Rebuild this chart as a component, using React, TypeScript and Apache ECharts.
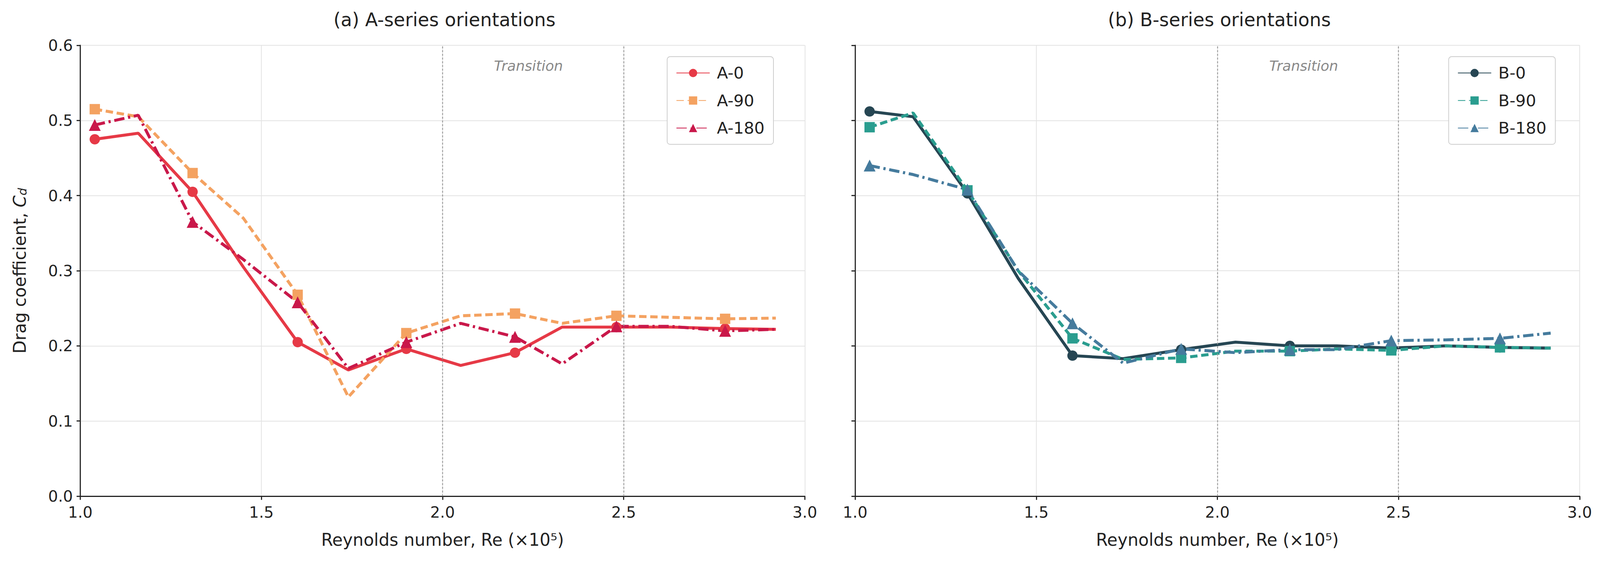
import React, { useEffect, useRef } from "react";
import * as echarts from "echarts";

const reValues = [1.04, 1.16, 1.31, 1.45, 1.6, 1.74, 1.9, 2.05, 2.2, 2.33, 2.48, 2.63, 2.78, 2.92];

const a0 = [0.475, 0.483, 0.405, 0.305, 0.205, 0.168, 0.196, 0.174, 0.191, 0.225, 0.225, 0.225, 0.223, 0.222];
const a90 = [0.515, 0.505, 0.43, 0.37, 0.268, 0.132, 0.217, 0.24, 0.243, 0.23, 0.24, 0.238, 0.236, 0.237];
const a180 = [0.494, 0.507, 0.365, 0.315, 0.258, 0.17, 0.205, 0.23, 0.212, 0.176, 0.226, 0.226, 0.22, 0.222];
const b0 = [0.512, 0.505, 0.403, 0.29, 0.187, 0.183, 0.195, 0.205, 0.2, 0.2, 0.197, 0.2, 0.198, 0.197];
const b90 = [0.491, 0.51, 0.407, 0.3, 0.21, 0.182, 0.184, 0.193, 0.193, 0.196, 0.194, 0.2, 0.198, 0.197];
const b180 = [0.44, 0.428, 0.408, 0.3, 0.23, 0.177, 0.196, 0.191, 0.195, 0.195, 0.207, 0.208, 0.21, 0.217];

const transitionLines = [2.0, 2.5];

const FONT = "DejaVu Sans";

const App = () => {
  const chartRef = useRef<HTMLDivElement>(null);

  useEffect(() => {
    const chartDom = chartRef.current;
    if (!chartDom) return;
    const myChart = echarts.init(chartDom, null, { renderer: "svg" });
    // everything is laid out for a 4324 px wide figure, then scaled
    const s = chartDom.clientWidth / 4324;
    const sy = chartDom.clientHeight / 1459;
    const S = (v: number) => v * s;

    // markers only on every other point
    const pts = (ys: number[]) =>
      ys.map((y, i) => (i % 2 === 0 ? [reValues[i], y] : { value: [reValues[i], y], symbol: "none" }));

    const mk = (name: string, ys: number[], idx: number, color: string, symbol: string, type: any) => ({
      name,
      type: "line",
      xAxisIndex: idx,
      yAxisIndex: idx,
      data: pts(ys),
      symbol,
      symbolSize: S(symbol === "triangle" ? 32 : 28),
      showAllSymbol: true,
      lineStyle: { color, width: S(8), type: Array.isArray(type) ? type.map(S) : type },
      itemStyle: { color },
      z: 3,
    });

    const vlines = (idx: number) => ({
      type: "line",
      xAxisIndex: idx,
      yAxisIndex: idx,
      data: [],
      silent: true,
      markLine: {
        symbol: "none",
        silent: true,
        label: { show: false },
        lineStyle: { color: "#999", type: [S(5), S(5)], width: S(2.5) },
        data: transitionLines.map((x) => ({ xAxis: x })),
      },
    });

    const grids = [
      { left: S(217), width: S(1958), top: 116 * sy, height: 1154 * sy },
      { left: S(2311), width: S(1958), top: 116 * sy, height: 1154 * sy },
    ];

    const xAxis = grids.map((_, i) => ({
      type: "value",
      gridIndex: i,
      min: 1,
      max: 3,
      interval: 0.5,
      name: "Reynolds number, Re (×10⁵)",
      nameLocation: "middle",
      nameGap: S(95),
      nameTextStyle: { fontSize: S(46), color: "#222", fontFamily: FONT },
      axisLine: { lineStyle: { color: "#222", width: S(3) } },
      axisTick: { length: S(10), lineStyle: { color: "#222", width: S(3) } },
      axisLabel: { fontSize: S(42), color: "#222", fontFamily: FONT, margin: S(22), formatter: (v: number) => v.toFixed(1) },
      splitLine: { show: true, lineStyle: { color: "#e3e3e3", width: S(2) } },
    }));

    const yAxis = grids.map((_, i) => ({
      type: "value",
      gridIndex: i,
      min: 0,
      max: 0.6,
      interval: 0.1,
      name: i === 0 ? "Drag coefficient, {c|C}{d|d}" : "",
      nameLocation: "middle",
      nameGap: S(140),
      nameTextStyle: {
        fontSize: S(46),
        color: "#222",
        fontFamily: FONT,
        rich: {
          c: { fontSize: S(46), fontStyle: "italic", color: "#222", fontFamily: FONT },
          d: { fontSize: S(32), fontStyle: "italic", color: "#222", fontFamily: FONT, verticalAlign: "bottom", padding: [S(14), 0, 0, 0] },
        },
      },
      axisLine: { show: true, lineStyle: { color: "#222", width: S(3) } },
      axisTick: { show: true, length: S(10), lineStyle: { color: "#222", width: S(3) } },
      axisLabel: { show: i === 0, fontSize: S(42), color: "#222", fontFamily: FONT, margin: S(20), formatter: (v: number) => v.toFixed(1) },
      splitLine: { show: true, lineStyle: { color: "#e3e3e3", width: S(2) } },
    }));

    const legendBase = {
      orient: "vertical",
      top: 145 * sy,
      itemWidth: S(90),
      itemHeight: S(28),
      itemGap: S(30),
      padding: [S(22), S(24), S(22), S(24)],
      backgroundColor: "rgba(255,255,255,0.9)",
      borderColor: "#ccc",
      borderWidth: S(2),
      borderRadius: S(8),
      textStyle: { fontSize: S(44), color: "#222", fontFamily: FONT, padding: [0, 0, 0, S(14)] },
    };

    const option = {
      animation: false,
      backgroundColor: "#fff",
      title: [
        { text: "(a) A-series orientations", left: S(1196), top: 22 * sy, textAlign: "center", textStyle: { fontSize: S(50), fontWeight: "normal", color: "#222", fontFamily: FONT } },
        { text: "(b) B-series orientations", left: S(3290), top: 22 * sy, textAlign: "center", textStyle: { fontSize: S(50), fontWeight: "normal", color: "#222", fontFamily: FONT } },
      ],
      grid: grids,
      xAxis,
      yAxis,
      legend: [
        { ...legendBase, data: ["A-0", "A-90", "A-180"], left: S(1803) },
        { ...legendBase, data: ["B-0", "B-90", "B-180"], left: S(3915) },
      ],
      graphic: [
        { type: "text", left: S(1335), top: 150 * sy, style: { text: "Transition", fontSize: S(38), fontStyle: "italic", fill: "#888", fontFamily: FONT } },
        { type: "text", left: S(3430), top: 150 * sy, style: { text: "Transition", fontSize: S(38), fontStyle: "italic", fill: "#888", fontFamily: FONT } },
      ],
      series: [
        vlines(0),
        vlines(1),
        mk("A-0", a0, 0, "#e63946", "circle", "solid"),
        mk("A-90", a90, 0, "#f4a261", "rect", [20, 10]),
        mk("A-180", a180, 0, "#c9184a", "triangle", [28, 10, 6, 10]),
        mk("B-0", b0, 1, "#264653", "circle", "solid"),
        mk("B-90", b90, 1, "#2a9d8f", "rect", [20, 10]),
        mk("B-180", b180, 1, "#457b9d", "triangle", [28, 10, 6, 10]),
      ],
    };

    myChart.setOption(option);
    return () => {
      myChart.dispose();
    };
  }, []);

  return (
    <div
      ref={chartRef}
      style={{ position: "fixed", left: 0, top: 0, width: "100vw", height: "100vh", background: "#fff" }}
    ></div>
  );
};

export default App;
